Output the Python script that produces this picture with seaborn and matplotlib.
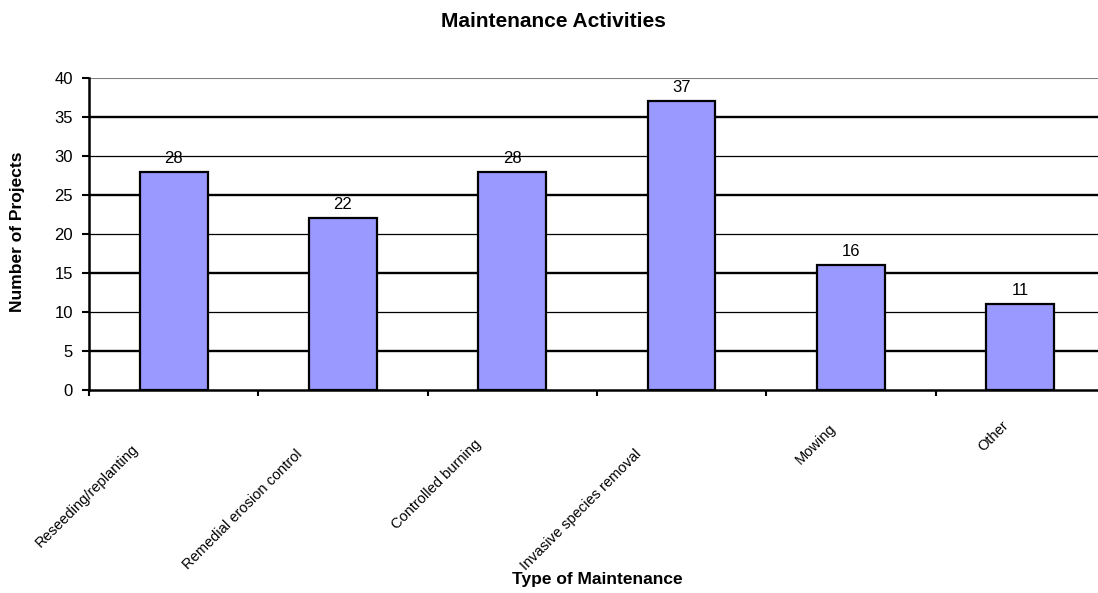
import matplotlib
matplotlib.use("Agg")
import matplotlib.pyplot as plt
import matplotlib.transforms as mtransforms
import seaborn as sns
import pandas as pd
import numpy as np

categories = ["Reseeding/replanting", "Remedial erosion control", "Controlled burning",
              "Invasive species removal", "Mowing", "Other"]
values = [28, 22, 28, 37, 16, 11]
yticks = [0, 5, 10, 15, 20, 25, 30, 35, 40]

sns.set_theme(style="white")
plt.rcParams['font.family'] = ['Liberation Sans', 'DejaVu Sans']
for k in ["text.color", "axes.labelcolor", "xtick.color", "ytick.color"]:
    plt.rcParams[k] = "black"

df = pd.DataFrame({"cat": categories, "val": values})

DPI = 100
fig = plt.figure(figsize=(10.98, 5.93), dpi=DPI)
ax = fig.add_axes([89/1098, 1-390/593, 1-89/1098, (390-78)/593])

for i, y in enumerate(yticks[1:]):
    if y == 40:
        ax.axhline(y, color="#808080", lw=1.5, zorder=0)
    else:
        ax.axhline(y, color="black", lw=1.7 if y % 10 else 0.9, zorder=0)

sns.barplot(data=df, x="cat", y="val", color="#9999FF", edgecolor="black", linewidth=1.6,
            width=0.40, saturation=1, ax=ax, zorder=2)

for p, v in zip(ax.patches, values):
    ax.annotate(str(v), (p.get_x() + p.get_width()/2, p.get_height()), xytext=(0, 6.5),
                textcoords="offset points", ha="center", va="baseline", fontsize=12, color="black")

ax.set_ylim(0, 40)
ax.set_yticks(yticks)
ax.set_xlim(-0.5, -0.5 + (1098-89)/169.3)
ax.set_xticks(np.arange(len(categories)))
ax.set_xticks(np.arange(len(categories)) - 0.5, minor=True)
ax.tick_params(axis="x", which="major", length=0, pad=0)
ax.tick_params(axis="x", which="minor", length=4, width=1.5, color="black", direction="out", bottom=True)
ax.tick_params(axis="y", length=5, width=1.5, color="black", direction="out", left=True, labelsize=12, pad=6.5)

# x tick labels: rotated 45 degrees, anchored like the spreadsheet layout
label_fs = 10.5
ax.set_xticklabels(categories, rotation=45, ha="right", va="center", rotation_mode="anchor",
                   fontsize=label_fs)
renderer = fig.canvas.get_renderer()
for lab in ax.get_xticklabels():
    w, h, d = renderer.get_text_width_height_descent(lab.get_text(), lab.get_fontproperties(), ismath=False)
    u = 5.6 + 0.226 * w
    off = mtransforms.ScaledTranslation(-u/DPI, -(19.5 + u)/DPI, fig.dpi_scale_trans)
    lab.set_transform(lab.get_transform() + off)

for s in ["top", "right"]:
    ax.spines[s].set_visible(False)
for s in ["left", "bottom"]:
    ax.spines[s].set_color("black")
    ax.spines[s].set_linewidth(1.8)

ax.set_xlabel("Type of Maintenance", fontsize=12.5, fontweight="bold")
ax.set_ylabel("Number of Projects", fontsize=12.5, fontweight="bold")
ax.xaxis.set_label_coords((597-89)/1009, (390-572)/312)
ax.yaxis.set_label_coords((25-89)/1009, (390-232)/312)

fig.text(553/1098, 1-21.5/593, "Maintenance Activities", ha="center", va="center",
         fontsize=15, fontweight="bold")

fig.savefig("out.png", dpi=DPI)
